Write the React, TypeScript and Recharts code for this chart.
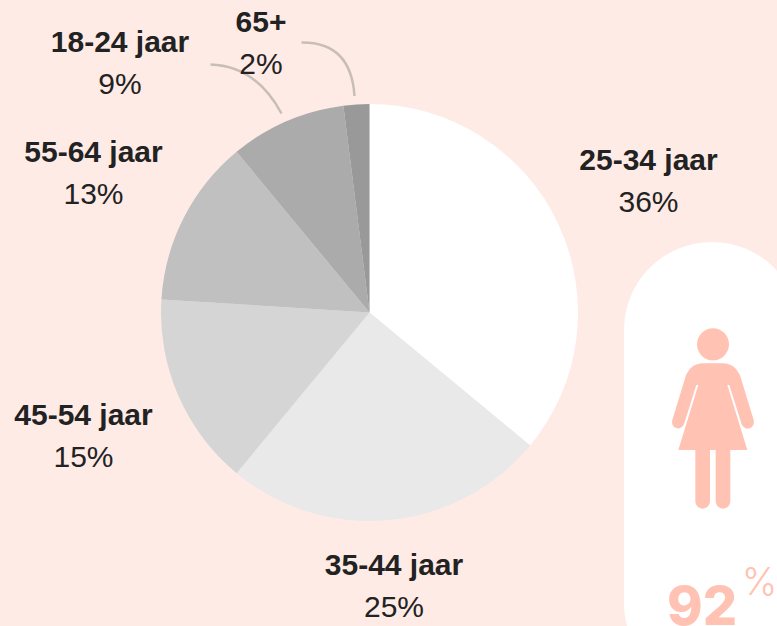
import React from 'react';
import { PieChart, Pie, Cell } from 'recharts';

const ageGroups = ['25-34 jaar', '35-44 jaar', '45-54 jaar', '55-64 jaar', '18-24 jaar', '65+'];
const shares = [36, 25, 15, 13, 9, 2];
const sliceColors = ['#ffffff', '#e9e9e9', '#d5d5d5', '#c0c0c0', '#ababab', '#999999'];

const WIDTH = 777;
const HEIGHT = 626;
const BACKGROUND = '#ffebe6';
const ACCENT = '#ffc2b3';
const femaleShare = 92;

// label anchors (center x, baseline of the first line), same order as ageGroups
const labelSpots: [number, number][] = [
  [648.5, 170],
  [394, 575],
  [83.5, 425],
  [93.5, 162],
  [120, 52],
  [261, 32],
];

// curved leader lines for the two small slices
const leaders: Record<string, string> = {
  '18-24 jaar': 'M210.5 64.5 Q256 66 281.5 113.5',
  '65+': 'M301.5 42.5 Q351 42 354.5 96',
};

const data = ageGroups.map((name, i) => ({ name, value: shares[i] }));

const renderLabel = (props: any) => {
  const { index, name, value } = props;
  const [x, y] = labelSpots[index];
  return (
    <g key={name}>
      {leaders[name] && <path d={leaders[name]} fill="none" stroke="#c9bdb8" strokeWidth={2.5} />}
      <text x={x} y={y} textAnchor="middle" fontSize={30} fontWeight={700} fill="#222222">
        {name}
      </text>
      <text x={x} y={y + 42} textAnchor="middle" fontSize={30} fill="#222222">
        {value}%
      </text>
    </g>
  );
};

// pill with the female pictogram on the right
const FemaleBadge = () => (
  <svg
    width={WIDTH}
    height={HEIGHT}
    style={{ position: 'absolute', left: 0, top: 0 }}
  >
    <rect x={624} y={242} width={176} height={449} rx={88} fill="#ffffff" />
    <g transform="translate(620 240) scale(0.3333)" fill={ACCENT}>
      <circle cx={279} cy={313} r={48} />
      <path d="M157 540 L192 425 Q205 370 250 370 L308 370 Q352 370 366 425 L401 540 A18.5 18.5 0 0 1 365 553 L328 435 L322 435 L382 630 L175 630 L235 435 L229 435 L192 553 A18.5 18.5 0 0 1 157 540 Z" />
      <path d="M226 625 L226 784 A22 22 0 0 0 270 784 L270 625 Z" />
      <path d="M287 625 L287 784 A22 22 0 0 0 331 784 L331 625 Z" />
    </g>
    <text x={702} y={625} textAnchor="middle" fontFamily="Inter" fontSize={54} fontWeight={800} fill={ACCENT}>
      {femaleShare}
    </text>
    <text x={759.5} y={595} textAnchor="middle" fontFamily="Inter" fontSize={38} fontWeight={300} fill={ACCENT}>
      %
    </text>
  </svg>
);

export default function App() {
  return (
    <div
      style={{
        position: 'absolute',
        left: 0,
        top: 0,
        width: WIDTH,
        height: HEIGHT,
        overflow: 'hidden',
        background: BACKGROUND,
        fontFamily: '"Liberation Sans", Arial, sans-serif',
      }}
    >
      <FemaleBadge />
      <div style={{ position: 'absolute', left: 0, top: 0 }}>
        <PieChart width={WIDTH} height={HEIGHT} margin={{ top: 0, right: 0, bottom: 0, left: 0 }}>
          <Pie
            data={data}
            dataKey="value"
            nameKey="name"
            cx={369.5}
            cy={312.5}
            outerRadius={208.5}
            startAngle={90}
            endAngle={-270}
            stroke="none"
            label={renderLabel}
            labelLine={false}
            isAnimationActive={false}
          >
            {data.map((entry, i) => (
              <Cell key={entry.name} fill={sliceColors[i]} />
            ))}
          </Pie>
        </PieChart>
      </div>
    </div>
  );
}
